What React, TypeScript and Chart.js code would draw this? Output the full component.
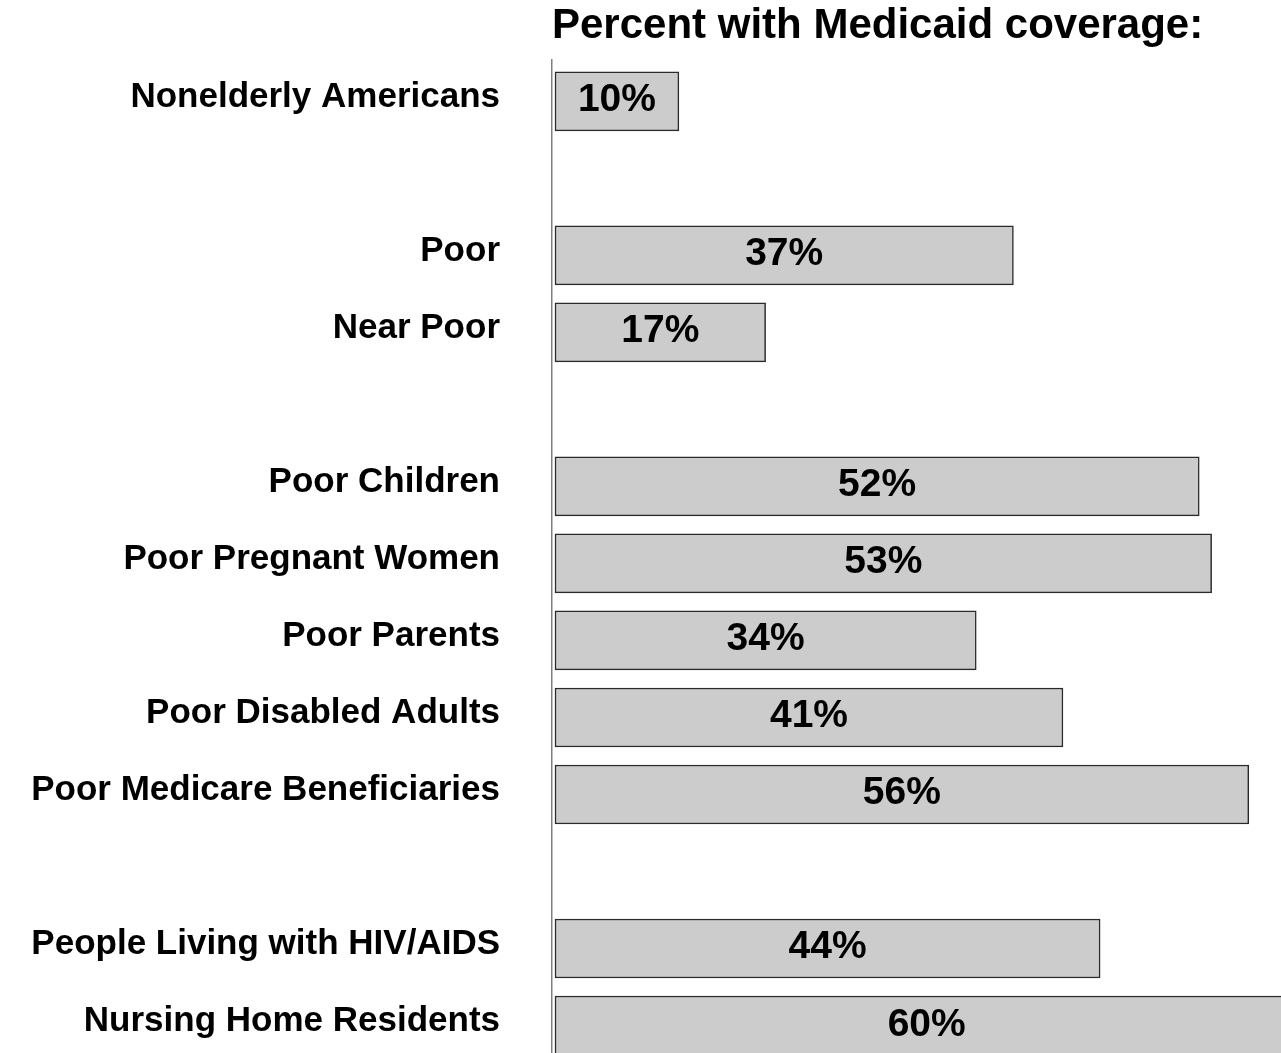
import React, { useEffect, useRef } from "react";
import { Chart, registerables } from "chart.js";

Chart.register(...registerables);

const chartTitle = "Percent with Medicaid coverage:";
const categories = [
  "Nonelderly Americans",
  "Poor",
  "Near Poor",
  "Poor Children",
  "Poor Pregnant Women",
  "Poor Parents",
  "Poor Disabled Adults",
  "Poor Medicare Beneficiaries",
  "People Living with HIV/AIDS",
  "Nursing Home Residents",
];
const values = [10, 37, 17, 52, 53, 34, 41, 56, 44, 60];
// group number of each category; one blank row is left between groups
const groups = [0, 1, 1, 2, 2, 2, 2, 2, 3, 3];
const rowSlots = categories.map((_, i) => i + groups[i]);

const FONT = "'Liberation Sans', Arial, Helvetica, sans-serif";

export default function App() {
  const ref = useRef<HTMLCanvasElement>(null);

  useEffect(() => {
    if (!ref.current) return;

    const valueLabels = {
      id: "valueLabels",
      afterDatasetsDraw(chart: any) {
        const ctx = chart.ctx;
        const meta = chart.getDatasetMeta(0);
        ctx.save();
        ctx.font = `bold 39px ${FONT}`;
        ctx.fillStyle = "#000000";
        ctx.textAlign = "center";
        ctx.textBaseline = "alphabetic";
        meta.data.forEach((el: any, i: number) => {
          const p = el.getProps(["x", "y", "base"], true);
          ctx.fillText(values[i] + "%", (p.x + p.base) / 2, p.y + 10);
        });
        ctx.restore();
      },
    };

    const chart = new Chart(ref.current, {
      type: "bar",
      data: {
        datasets: [
          {
            data: values.map((v, i) => ({ x: v, y: rowSlots[i] })) as any,
            backgroundColor: "#cccccc",
            borderColor: "#2a2a2a",
            borderWidth: 1.5,
            borderSkipped: false,
            barThickness: 59,
          },
        ],
      },
      options: {
        indexAxis: "y",
        responsive: false,
        animation: false,
        layout: { padding: 0 },
        plugins: {
          legend: { display: false },
          tooltip: { enabled: false },
          title: {
            display: true,
            text: chartTitle,
            align: "start",
            fullSize: false,
            color: "#000000",
            font: { family: FONT, size: 42, weight: "bold" },
            padding: { top: 1, bottom: 8 },
          },
        },
        scales: {
          x: {
            type: "linear",
            display: false,
            min: -0.242,
            max: 58.6,
          },
          y: {
            type: "linear",
            reverse: true,
            offset: false,
            min: -0.545,
            max: 12.357,
            afterFit: (scale: any) => {
              scale.width = 552;
              scale.paddingTop = 0;
              scale.paddingBottom = 0;
            },
            afterBuildTicks: (scale: any) => {
              scale.ticks = rowSlots.map((v) => ({ value: v }));
            },
            grid: { display: false, drawTicks: false, tickLength: 0, offset: false },
            border: { display: true, color: "#808080", width: 1.5 },
            ticks: {
              autoSkip: false,
              color: "#000000",
              padding: 52,
              labelOffset: -4,
              font: { family: FONT, size: 35, weight: "bold" },
              callback: (value: any) => {
                const i = rowSlots.indexOf(Number(value));
                return i >= 0 ? categories[i] : "";
              },
            },
          },
        },
      },
      plugins: [valueLabels],
    });

    return () => chart.destroy();
  }, []);

  return (
    <div style={{ position: "absolute", left: 0, top: 0, width: 1281, height: 1053, background: "#ffffff" }}>
      <canvas ref={ref} width={1281} height={1053} style={{ display: "block" }} />
    </div>
  );
}
